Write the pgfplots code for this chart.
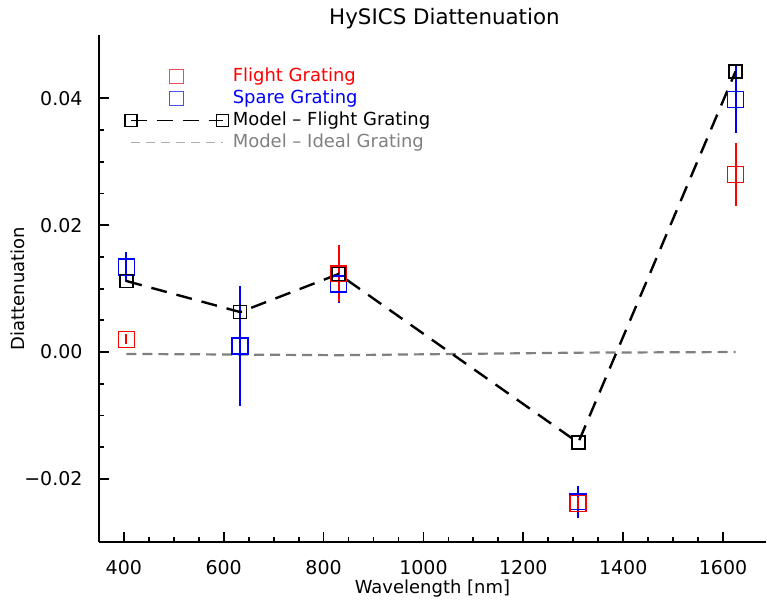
\documentclass[border=0pt]{standalone}
\usepackage{pgfplots}
\pgfplotsset{compat=1.18}
\usepackage{fontspec}
\setmainfont{DejaVu Sans}
\definecolor{mgray}{RGB}{128,128,128}
\definecolor{legred}{RGB}{235,80,80}
\definecolor{legblue}{RGB}{80,80,225}
\definecolor{lgray}{RGB}{175,175,175}
\pgfplotsset{
 myends legend/.style={legend image code/.code={\draw[##1] plot coordinates {(0pt,0pt) (46pt,0pt)};}},
 myredsq legend/.style={legend image code/.code={\draw[draw=legred, line width=0.5pt, solid] (19.5pt,-3.5pt) rectangle (26.5pt,3.5pt);}},
 mybluesq legend/.style={legend image code/.code={\draw[draw=legblue, line width=0.5pt, solid] (19.5pt,-3.5pt) rectangle (26.5pt,3.5pt);}},
 myline legend/.style={legend image code/.code={\draw[##1] plot coordinates {(0pt,0pt) (46pt,0pt)};}},
}
\pgfplotstableread{
x y e
405 0.0020 0.0008
830 0.01235 0.0045
1310 -0.0239 0.0010
1625 0.0280 0.0050
}\flight
\pgfplotstableread{
x y e
405 0.0134 0.0023
633 0.00095 0.0095
830 0.0107 0.0030
1310 -0.0236 0.0025
1625 0.0398 0.0053
}\spare
\pgfplotstableread{
x y
405 0.0112
633 0.0063
830 0.0123
1310 -0.0143
1625 0.04425
}\modelflight
\pgfplotstableread{
x y
405 -0.0003
633 -0.0004
830 -0.0005
1310 -0.0001
1625 0.0000
}\modelideal
\begin{document}
\fontsize{9}{11}\selectfont
\begin{tikzpicture}
\begin{axis}[
 scale only axis, width=334pt, height=254pt,
 xmin=350, xmax=1686, ymin=-0.03, ymax=0.05,
 axis lines*=left,
 axis line style={-, line width=1pt},
 tick align=inside,
 major tick length=5pt, minor tick length=2.5pt,
 tick style={black, line width=0.9pt},
 xtick={400,600,...,1600},
 minor x tick num=3,
 ytick={-0.02,0,0.02,0.04},
 yticklabels={−0.02,0.00,0.02,0.04},
 scaled y ticks=false,
 scaled x ticks=false,
 minor y tick num=3,
 /pgf/number format/assume math mode=true,
 /pgf/number format/set thousands separator={},
 ticklabel style={font=\fontsize{9.5}{11}\selectfont},
 xticklabel style={yshift=-6pt},
 yticklabel style={xshift=-5pt},
 xlabel={Wavelength [nm]},
 ylabel={Diattenuation},
 xlabel style={at={(axis description cs:0.5,-0.0906)}, anchor=center, font=\fontsize{9}{11}\selectfont},
 ylabel style={at={(axis description cs:-0.1213,0.5)}, anchor=center, font=\fontsize{9}{11}\selectfont},
 title={HySICS Diattenuation},
 every axis title shift=0pt,
 title style={at={(axis description cs:0.518,1.0315)}, anchor=center, font=\fontsize{10.7}{12}\selectfont},
 legend style={at={(axis description cs:0.0385,0.937)}, anchor=north west, draw=none, fill=none,
   font=\fontsize{9}{11}\selectfont, row sep=2pt, inner sep=0pt,
   nodes={inner ysep=0pt, inner xsep=2pt, text height=7pt, text depth=2pt}},
 legend cell align=left,
 clip=false,
]
\addplot[mgray, line width=1.1pt, dash pattern=on 5pt off 3pt, forget plot] table[x=x,y=y] {\modelideal};
\addplot[blue, only marks, mark=square, mark size=4pt, line width=0.8pt, forget plot,
  error bars/.cd, y dir=both, y explicit, error mark=none, error bar style={line width=1pt}]
  table[x=x,y=y,y error=e] {\spare};
\addplot[red, only marks, mark=square, mark size=4pt, line width=0.8pt, forget plot,
  error bars/.cd, y dir=both, y explicit, error mark=none, error bar style={line width=1pt}]
  table[x=x,y=y,y error=e] {\flight};
\addplot[black, line width=1.2pt, dash pattern=on 8pt off 5pt, mark=square, mark size=3.25pt,
  mark options={solid, line width=0.8pt}, forget plot] table[x=x,y=y] {\modelflight};
\addlegendimage{myredsq legend}
\addlegendentry{\textcolor{red}{Flight Grating}}
\addlegendimage{mybluesq legend}
\addlegendentry{\textcolor{blue}{Spare Grating}}
\addlegendimage{myends legend, black, line width=0.6pt, dash pattern=on 8pt off 5pt, mark=square, mark size=3pt, mark options={solid, draw=black}}
\addlegendentry{\textcolor{black}{Model -- Flight Grating}}
\addlegendimage{myline legend, lgray, line width=0.6pt, dash pattern=on 4.5pt off 3pt}
\addlegendentry{\textcolor{mgray}{Model -- Ideal Grating}}
\path (axis description cs:-0.1482,-0.1161) rectangle (axis description cs:1,1.0689);
\end{axis}
\end{tikzpicture}
\end{document}
